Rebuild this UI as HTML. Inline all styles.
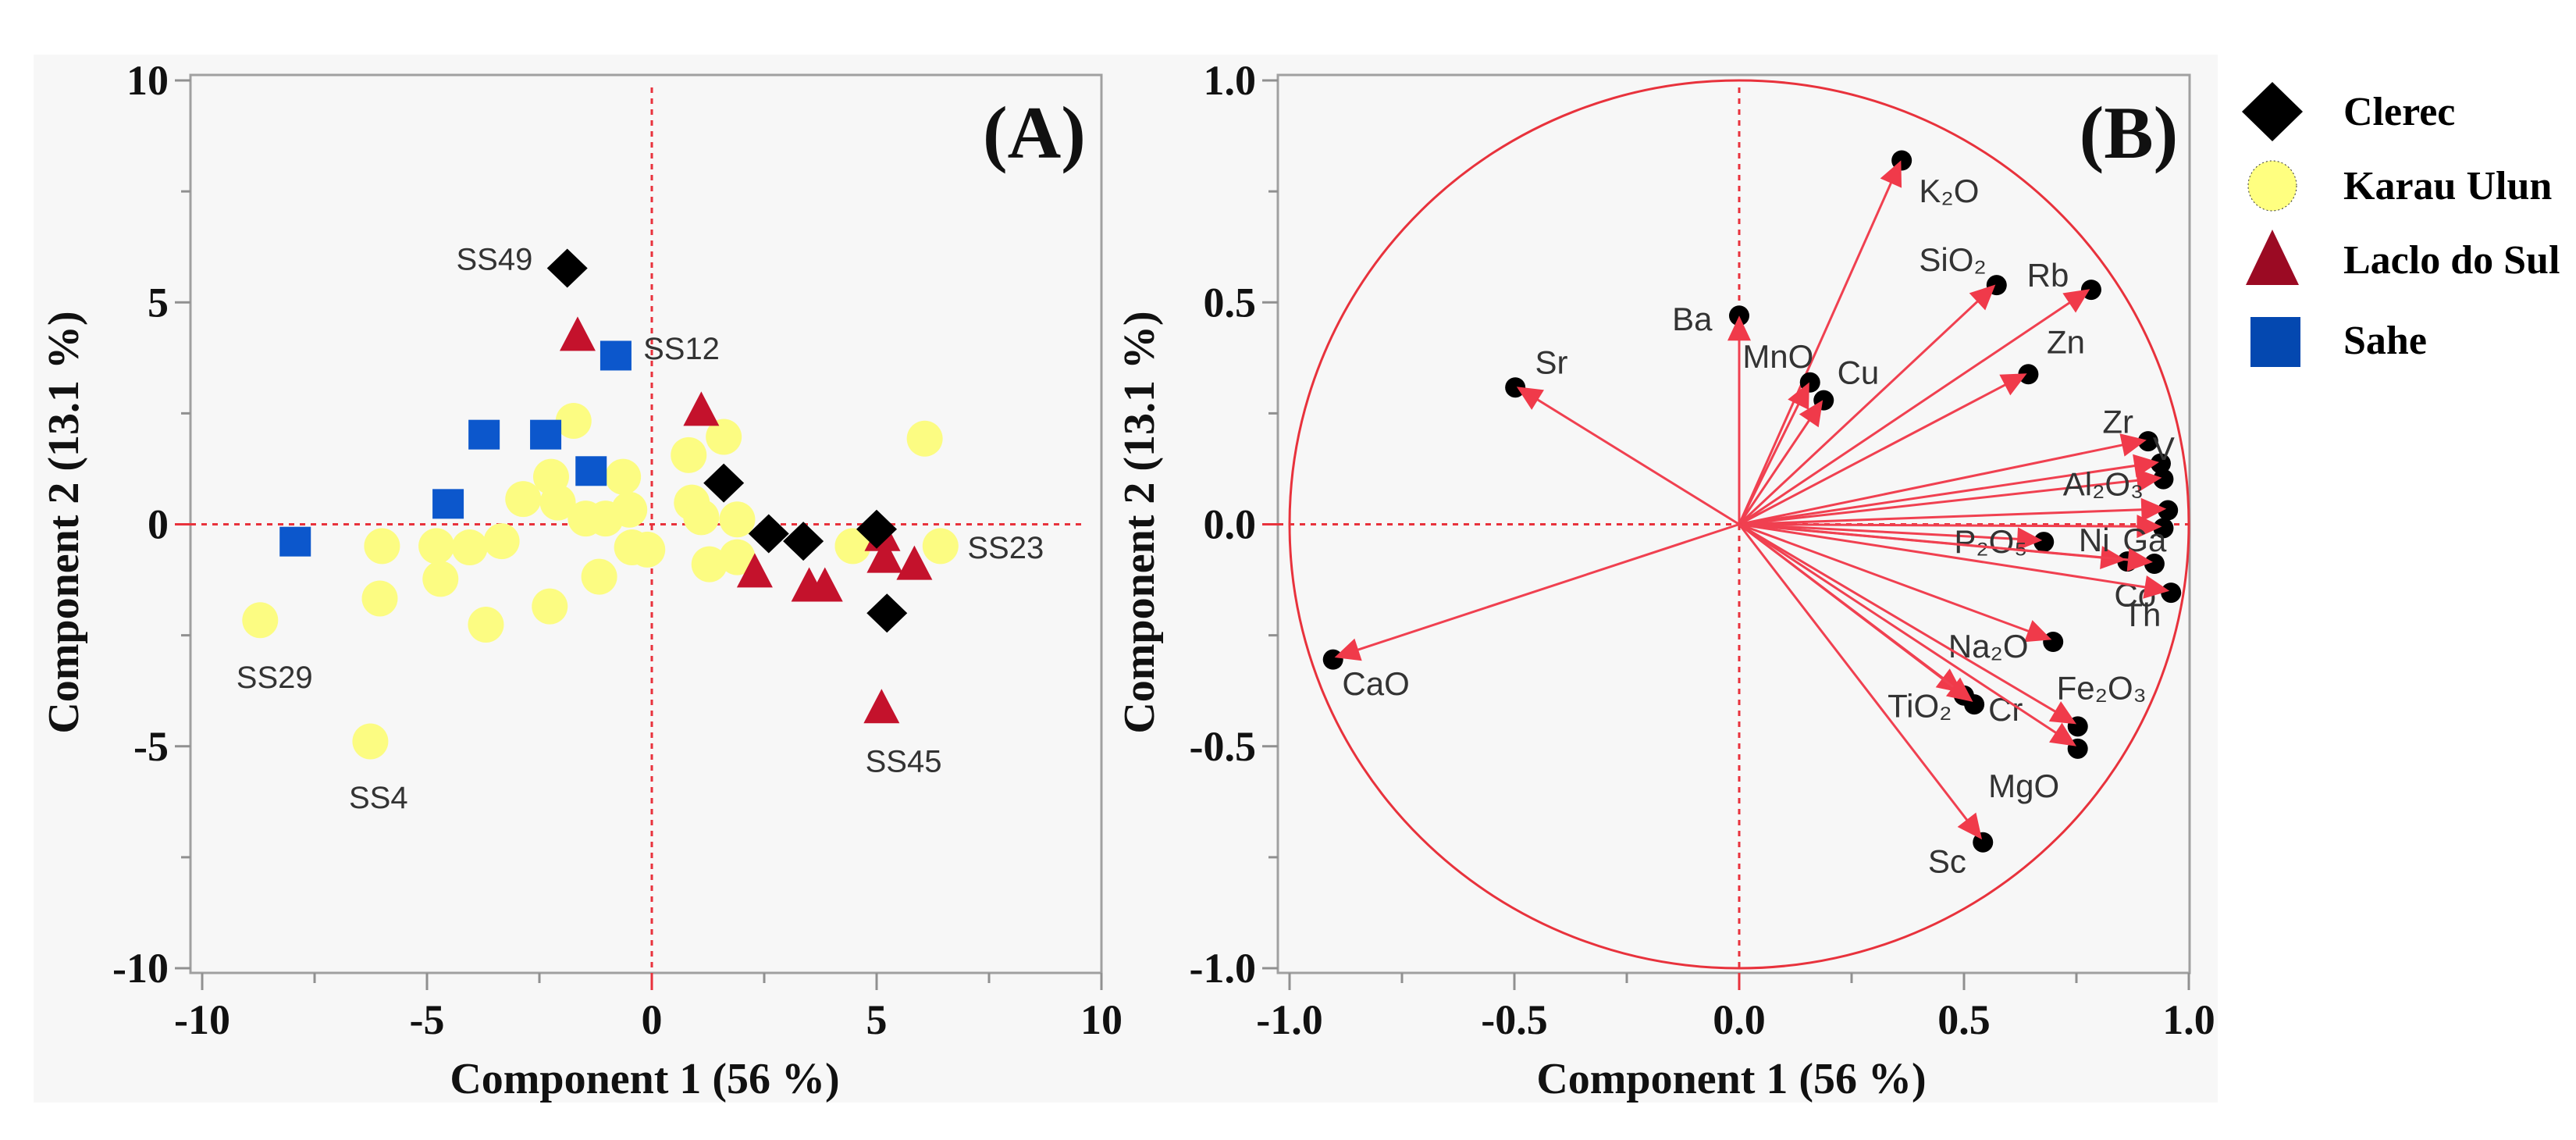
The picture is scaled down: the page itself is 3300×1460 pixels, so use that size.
<!DOCTYPE html>
<html><head><meta charset="utf-8">
<style>
html,body{margin:0;padding:0;background:#fff;}
svg{display:block;}
.tk{font-family:"Liberation Serif",serif;font-weight:bold;font-size:54px;fill:#111;}
.ttl{font-family:"Liberation Serif",serif;font-weight:bold;font-size:56px;fill:#111;}
.pl{font-family:"Liberation Sans",sans-serif;font-size:40px;fill:#333;}
.leg{font-family:"Liberation Serif",serif;font-weight:bold;font-size:52px;fill:#000;}
</style></head>
<body>
<svg id="chart" width="3300" height="1460" viewBox="0 0 3300 1460" xmlns="http://www.w3.org/2000/svg">
<rect x="43" y="70" width="2798" height="1342" fill="#f7f7f7"/>
<g id="gA"></g>
<g id="gB"></g>
<g id="legend">
  <polygon points="2911,105 2950,143 2911,181 2872,143" fill="#000"/>
  <text class="leg" x="3002" y="160">Clerec</text>
  <ellipse cx="2911" cy="238" rx="31" ry="32" fill="#ffff80" stroke="#333" stroke-dasharray="2,3" stroke-width="1"/>
  <text class="leg" x="3002" y="255">Karau Ulun</text>
  <polygon points="2911,294 2945,365 2877,365" fill="#9b0a23"/>
  <text class="leg" x="3002" y="350">Laclo do Sul</text>
  <rect x="2883" y="406" width="64" height="64" fill="#0448b0"/>
  <text class="leg" x="3002" y="453">Sahe</text>
</g>
</svg>
<script>
// ---------- Panel A data ----------
const clerecX=[-1.88,1.6,2.6,3.37,5.0,5.23];
const clerecY=[5.77,0.93,-0.21,-0.38,-0.11,-2.0];
const lacloX=[-1.65,1.1,2.29,3.5,3.85,5.13,5.18,5.84,5.11];
const lacloY=[4.26,2.57,-1.07,-1.39,-1.39,-0.25,-0.74,-0.9,-4.13];
const saheX=[-0.8,-3.73,-2.36,-1.35,-4.53,-7.93];
const saheY=[3.8,2.02,2.02,1.2,0.46,-0.39];
const karauX=[-1.74,1.6,6.07,0.82,-2.24,-0.64,-2.86,-2.09,-1.47,-1.03,-0.5,0.89,1.1,1.9,-6.0,-4.79,-4.05,-3.34,-0.44,-0.1,4.47,6.42,1.28,1.9,-4.7,-1.17,-6.05,-2.27,-3.69,-8.71,-6.26];
const karauY=[2.33,1.97,1.93,1.56,1.07,1.07,0.57,0.49,0.13,0.13,0.33,0.49,0.16,0.11,-0.49,-0.49,-0.52,-0.38,-0.52,-0.57,-0.49,-0.49,-0.9,-0.74,-1.23,-1.18,-1.67,-1.85,-2.26,-2.16,-4.89];
const sampleLabels=["SS49","SS12","SS29","SS4","SS23","SS45"];
const sampleLabelX=[-3.5,0.66,-8.39,-6.08,7.87,5.6];
const sampleLabelY=[5.98,3.97,-3.44,-6.15,-0.52,-5.33];
const ticksA=[-10,-5,0,5,10];
// ---------- Panel B data ----------
const varNames=["K₂O","SiO₂","Rb","Ba","Sr","MnO","Cu","Zn","Zr","V","Al₂O₃","Ga","","P₂O₅","Ni","Co","Th","Na₂O","TiO₂","Cr","Fe₂O₃","MgO","Sc","CaO"];
const loadX=[0.36,0.57,0.78,0.0,-0.495,0.156,0.186,0.64,0.906,0.934,0.94,0.94,0.95,0.674,0.86,0.92,0.957,0.695,0.497,0.52,0.75,0.75,0.54,-0.90];
const loadY=[0.82,0.54,0.53,0.47,0.31,0.32,0.28,0.34,0.19,0.14,0.105,-0.005,0.035,-0.036,-0.08,-0.085,-0.15,-0.26,-0.38,-0.40,-0.45,-0.50,-0.71,-0.30];
const varLabelX=[0.40,0.40,0.64,-0.149,-0.454,0.0075,0.218,0.684,0.808,0.92,0.72,0.853,0,0.478,0.755,0.834,0.853,0.465,0.33,0.554,0.706,0.554,0.42,-0.883];
const varLabelY=[0.75,0.595,0.56,0.462,0.364,0.377,0.341,0.41,0.23,0.17,0.09,-0.036,0,-0.04,-0.036,-0.16,-0.205,-0.275,-0.41,-0.418,-0.369,-0.59,-0.76,-0.36];
const ticksB=[-1.0,-0.5,0.0,0.5,1.0];
const tickLabelsB=["-1.0","-0.5","0.0","0.5","1.0"];

const NS="http://www.w3.org/2000/svg";
function mk(parent,tag,attrs){const e=document.createElementNS(NS,tag);for(const k in attrs)e.setAttribute(k,attrs[k]);parent.appendChild(e);return e;}

const Y0=671.5, YU=56.85;
const xA=v=>835+v*57.6, yA=v=>Y0-v*YU;
const xB=v=>2228+v*576, yB=v=>Y0-v*568.5;

function drawFrame(g,left,right,top,bottom,xs,ys,ticks,labels,minors,prefix){
  let f=mk(g,'rect',{x:left,y:top,width:right-left,height:bottom-top,fill:'none',stroke:'#a0a0a0','stroke-width':3});
  
  
  ticks.forEach((t,i)=>{
    let c=t===0?'#e8323c':'#909090';
    let l=mk(g,'line',{x1:xs(t),x2:xs(t),y1:bottom,y2:bottom+22,stroke:c,'stroke-width':3});
    
    
    let tx=mk(g,'text',{x:xs(t),y:bottom+78,'text-anchor':'middle',class:'tk'});
    tx.textContent=labels[i];
    
    
    let l2=mk(g,'line',{x1:left-20,x2:left,y1:ys(t),y2:ys(t),stroke:c,'stroke-width':3});
    
    
    let ty=mk(g,'text',{x:left-28,y:ys(t)+18,'text-anchor':'end',class:'tk'});
    ty.textContent=labels[i];
    
    
  });
  minors.forEach(t=>{
    let l=mk(g,'line',{x1:xs(t),x2:xs(t),y1:bottom,y2:bottom+13,stroke:'#909090','stroke-width':3});
    
    
    let l2=mk(g,'line',{x1:left-12,x2:left,y1:ys(t),y2:ys(t),stroke:'#909090','stroke-width':3});
    
    
  });
}

// ---------- Panel A ----------
const gA=document.getElementById('gA');
drawFrame(gA,244,1411,96,1246,xA,yA,ticksA,ticksA.map(String),[-7.5,-2.5,2.5,7.5],'plot-a');
let dv=mk(gA,'line',{x1:xA(0),x2:xA(0),y1:112,y2:1246,stroke:'#e8323c','stroke-width':3,'stroke-dasharray':'7,7'});


let dh=mk(gA,'line',{x1:244,x2:1392,y1:yA(0),y2:yA(0),stroke:'#e8323c','stroke-width':3,'stroke-dasharray':'7,7'});



karauX.forEach((v,i)=>{
  let c=mk(gA,'circle',{cx:xA(v),cy:yA(karauY[i]),r:23,fill:'#fcfc82'});
  
  
});
saheX.forEach((v,i)=>{
  let x=xA(v),y=yA(saheY[i]);
  let r=mk(gA,'rect',{x:x-20,y:y-19,width:40,height:38,fill:'#0c57cc'});
  
  
});
lacloX.forEach((v,i)=>{
  let x=xA(v),y=yA(lacloY[i]);
  let p=mk(gA,'polygon',{points:`${x},${y-24} ${x+23},${y+20} ${x-23},${y+20}`,fill:'#c4122c'});
  
  
});
clerecX.forEach((v,i)=>{
  let x=xA(v),y=yA(clerecY[i]);
  let p=mk(gA,'polygon',{points:`${x},${y-25} ${x+26},${y} ${x},${y+25} ${x-26},${y}`,fill:'#000'});
  
  
});
sampleLabels.forEach((s,i)=>{
  let t=mk(gA,'text',{x:xA(sampleLabelX[i]),y:yA(sampleLabelY[i])+14,'text-anchor':'middle',class:'pl'});
  t.textContent=s;
  
  
});
let pa=mk(gA,'text',{x:1325,y:202,'text-anchor':'middle',class:'ttl',style:'font-size:95px'});
pa.textContent='(A)';


let xtA=mk(gA,'text',{x:826,y:1400,'text-anchor':'middle',class:'ttl'});
xtA.textContent='Component 1  (56 %)';


let ytA=mk(gA,'text',{x:0,y:0,'text-anchor':'middle',class:'ttl',transform:'translate(100,669) rotate(-90)'});
ytA.textContent='Component 2  (13.1 %)';



// ---------- Panel B ----------
const gB=document.getElementById('gB');
drawFrame(gB,1637,2805,96,1246,xB,yB,ticksB,tickLabelsB,[-0.75,-0.25,0.25,0.75],'plot-b');
let circ=mk(gB,'ellipse',{cx:xB(0),cy:yB(0),rx:xB(1)-xB(0),ry:yB(0)-yB(1),fill:'none',stroke:'#e8323c','stroke-width':3});


let dv2=mk(gB,'line',{x1:xB(0),x2:xB(0),y1:112,y2:1260,stroke:'#e8323c','stroke-width':3,'stroke-dasharray':'7,7'});


let dh2=mk(gB,'line',{x1:1637,x2:xB(1),y1:yB(0),y2:yB(0),stroke:'#e8323c','stroke-width':3,'stroke-dasharray':'7,7'});



loadX.forEach((v,i)=>{
  const x0=xB(0),y0=yB(0),x1=xB(v),y1=yB(loadY[i]);
  const dx=x1-x0,dy=y1-y0,L=Math.hypot(dx,dy),ux=dx/L,uy=dy/L;
  let dot=mk(gB,'circle',{cx:x1+ux*2,cy:y1+uy*2+2,r:13,fill:'#000'});
  
  
  let ln=mk(gB,'line',{x1:x0,y1:y0,x2:x1-ux*12,y2:y1-uy*12,stroke:'#f04050','stroke-width':3});
  
  
  const bx=x1-ux*32,by=y1-uy*32,px=-uy*15,py=ux*15;
  let ah=mk(gB,'polygon',{points:`${x1},${y1} ${bx+px},${by+py} ${bx-px},${by-py}`,fill:'#f03a4a'});
  
  
  if(varNames[i]){
    let t=mk(gB,'text',{x:xB(varLabelX[i]),y:yB(varLabelY[i])+14,class:'pl',style:'font-size:42px'});
    t.textContent=varNames[i];
    
    
  }
});
let pb=mk(gB,'text',{x:2727,y:202,'text-anchor':'middle',class:'ttl',style:'font-size:95px'});
pb.textContent='(B)';


let xtB=mk(gB,'text',{x:2218,y:1400,'text-anchor':'middle',class:'ttl'});
xtB.textContent='Component 1  (56 %)';


let ytB=mk(gB,'text',{x:0,y:0,'text-anchor':'middle',class:'ttl',transform:'translate(1478,669) rotate(-90)'});
ytB.textContent='Component 2  (13.1 %)';


</script>
</body></html>
